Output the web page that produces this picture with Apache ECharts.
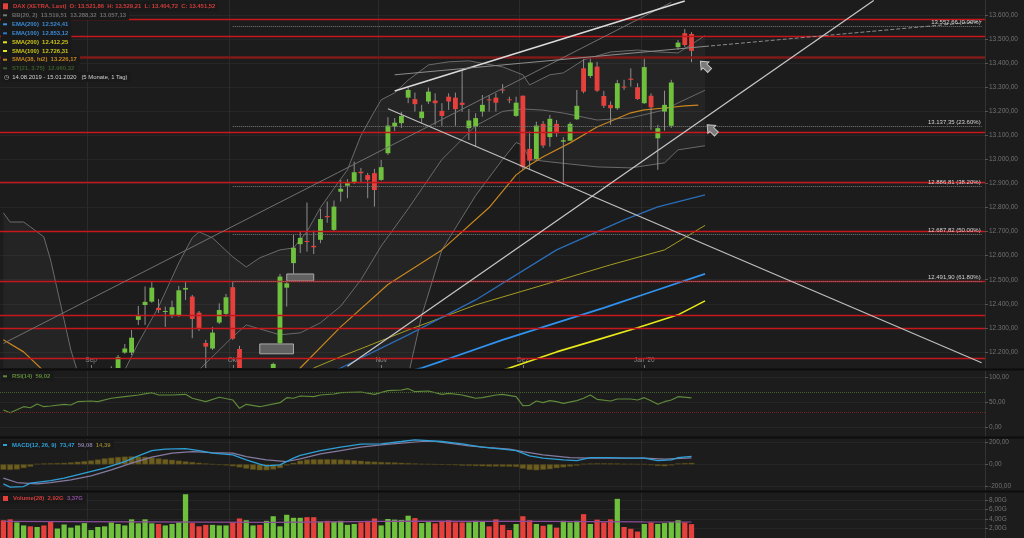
<!DOCTYPE html>
<html><head><meta charset="utf-8">
<script src="https://cdn.jsdelivr.net/npm/echarts@6/dist/echarts.min.js"></script>
<style>html,body{margin:0;padding:0;background:#1c1c1c;overflow:hidden}#c{width:1024px;height:538px}</style>
</head><body><div id="c"></div>
<script>
// ---------- DATA ----------
const dates = ['14.08.','15.08.','16.08.','19.08.','20.08.','21.08.','22.08.','23.08.','26.08.','27.08.','28.08.','29.08.','30.08.',
'02.09.','03.09.','04.09.','05.09.','06.09.','09.09.','10.09.','11.09.','12.09.','13.09.','16.09.','17.09.','18.09.','19.09.','20.09.','23.09.','24.09.','25.09.','26.09.','27.09.','30.09.',
'01.10.','02.10.','04.10.','07.10.','08.10.','09.10.','10.10.','11.10.','14.10.','15.10.','16.10.','17.10.','18.10.','21.10.','22.10.','23.10.','24.10.','25.10.','28.10.','29.10.','30.10.','31.10.',
'01.11.','04.11.','05.11.','06.11.','07.11.','08.11.','11.11.','12.11.','13.11.','14.11.','15.11.','18.11.','19.11.','20.11.','21.11.','22.11.','25.11.','26.11.','27.11.','28.11.','29.11.',
'02.12.','03.12.','04.12.','05.12.','06.12.','09.12.','10.12.','11.12.','12.12.','13.12.','16.12.','17.12.','18.12.','19.12.','20.12.','23.12.','27.12.','30.12.',
'02.01.','03.01.','06.01.','07.01.','08.01.','09.01.','10.01.','13.01.'];
const futureDates = ['14.01.','15.01.','16.01.','17.01.','20.01.','21.01.','22.01.','23.01.','24.01.','27.01.','28.01.','29.01.','30.01.','31.01.',
'03.02.','04.02.','05.02.','06.02.','07.02.','10.02.','11.02.','12.02.','13.02.','14.02.','17.02.','18.02.','19.02.','20.02.','21.02.','24.02.','25.02.','26.02.','27.02.','28.02.',
'02.03.','03.03.','04.03.','05.03.','06.03.','09.03.','10.03.','11.03.','12.03.'];
const monthLabels = {13:'Sep',34:'Okt',56:'Nov',77:'Dez',95:"Jan '20"};

const openP  = [11700,11440,11470,11660,11720,11710,11810,11780,11560,11700,11700,11750,11890,11950,11900,11960,12080,12110,12197,12197,12333,12395,12409,12383,12366,12354,12351,12459,12430,12363,12237,12214,12322,12358,12469,12212,11960,12050,12080,11990,12100,12236,12467,12569,12648,12661,12641,12666,12765,12707,12866,12891,12904,12949,12935,12943,12915,13026,13137,13151,13257,13251,13172,13241,13245,13202,13261,13257,13236,13130,13137,13199,13250,13257,13291,13250,13181,13265,13044,13002,13148,13093,13148,13074,13078,13167,13379,13347,13386,13264,13227,13213,13303,13336,13300,13234,13265,13088,13199,13140,13467,13525,13521.86];
const highP  = [11720,11470,11580,11740,11760,11820,11850,11810,11680,11800,11730,11860,11970,11990,11960,12040,12140,12187,12233,12291,12391,12472,12492,12420,12388,12413,12474,12491,12437,12370,12250,12304,12402,12441,12492,12225,12060,12110,12110,12110,12155,12524,12499,12686,12700,12821,12704,12794,12825,12829,12915,12918,12991,12965,12944,12961,12998,13176,13172,13198,13299,13278,13227,13299,13275,13234,13275,13278,13369,13210,13192,13268,13268,13275,13313,13261,13261,13266,13116,13157,13160,13185,13164,13093,13156,13289,13417,13428,13406,13285,13241,13331,13331,13379,13317,13421,13275,13144,13286,13331,13497,13542,13529.21];
const lowP   = [11480,11266,11440,11640,11650,11700,11730,11580,11550,11690,11640,11740,11870,11920,11800,11950,12050,12090,12192,12187,12312,12312,12404,12362,12304,12341,12345,12416,12257,12287,12120,12208,12316,12347,12250,11900,11930,12000,11960,11970,12020,12233,12388,12524,12611,12617,12607,12652,12737,12699,12825,12839,12898,12902,12839,12804,12911,13019,13119,13131,13234,13199,13153,13231,13144,13140,13206,13140,13198,13081,13053,13178,13199,13199,13275,13234,13177,12957,12957,12998,13048,13053,13094,12894,13077,13164,13275,13339,13281,13214,13144,13206,13289,13303,13248,13231,13123,12957,13120,13131,13456,13468,13404.72];
const closeP = [11492,11412,11563,11715,11680,11802,11777,11612,11658,11730,11701,11838,11939,11953,11911,12025,12126,12178,12214,12259,12352,12408,12467,12374,12370,12386,12456,12466,12337,12297,12222,12280,12374,12427,12255,11925,12012,12097,11970,12094,12150,12513,12485,12633,12674,12657,12635,12752,12760,12804,12878,12901,12947,12943,12915,12873,12968,13141,13153,13181,13289,13230,13199,13282,13234,13181,13241,13209,13227,13162,13172,13227,13246,13236,13287,13246,13236,12968,12995,13141,13058,13169,13109,13080,13148,13223,13282,13403,13286,13223,13213,13317,13299,13331,13251,13384,13217,13130,13227,13320,13486,13476,13451.52];
// volume in billions (G)
const volume = [3.74,3.93,3.29,2.65,2.46,2.32,2.65,3.43,1.99,2.85,2.19,2.65,3.15,1.68,2.32,2.46,3.29,2.96,2.65,3.93,3.10,3.93,3.10,2.96,2.65,2.96,3.29,9.23,3.15,2.46,2.77,2.77,2.65,2.65,3.29,4.12,3.74,2.65,2.77,3.62,4.59,2.46,4.90,4.26,4.26,4.39,4.39,3.48,3.62,3.43,3.62,2.77,2.96,3.29,3.62,4.12,2.65,4.01,3.87,3.81,4.70,4.20,3.15,3.35,3.10,3.62,3.74,3.29,3.29,3.29,3.62,3.43,2.46,3.93,2.77,1.68,2.96,4.59,3.74,2.96,2.57,2.85,2.19,3.62,3.29,3.62,5.03,2.96,3.87,3.29,3.93,8.26,2.32,1.94,1.35,2.96,3.29,2.96,3.15,3.35,3.74,3.29,2.92];
const volumeMA = [[0,3.5],[20,3.4],[40,3.3],[60,3.55],[80,3.5],[95,3.4],[102,3.37]];

const bbUpper = [[0,12778],[1,12740],[3,12740],[4,12720],[6,12678],[7,12582],[8,12458],[9,12333],[10,12208],[11,12117],[14,11990],[16,12040],[18,12125],[20,12237],[23,12387],[26,12570],[28,12674],[29,12699],[31,12674],[34,12595],[36,12553],[38,12591],[41,12624],[43,12632],[45,12700],[47,12800],[49,12880],[51,12957],[53,13100],[55,13200],[56,13248],[58,13277],[60,13330],[63,13393],[66,13406],[69,13410],[74,13385],[77,13352],[78,13310],[81,13352],[83,13360],[86,13414],[90,13447],[94,13455],[97,13447],[100,13443],[104,13515]];
const bbMiddle = [[0,11950],[13,11800],[22,12000],[29,12125],[34,12263],[36,12312],[41,12271],[44,12279],[47,12321],[50,12390],[53,12500],[56,12640],[60,12795],[65,13000],[70,13140],[74,13200],[77,13210],[80,13205],[83,13193],[88,13164],[93,13173],[98,13206],[100,13235],[104,13288]];
const bbLower = [[0,11200],[20,11400],[35,11700],[50,11750],[55,11800],[58,11950],[60,12100],[62,12350],[65,12624],[70,12850],[74,13000],[76,13070],[77,13060],[78,13000],[81,12990],[88,12969],[93,12965],[98,12986],[100,13040],[104,13057]];
const sma38 = [[0,12250],[3,12200],[6,12120],[10,12020],[40,11950],[44,12133],[50,12304],[57,12480],[65,12624],[72,12800],[76,12936],[78,12977],[80,13011],[84,13069],[88,13135],[93,13194],[95,13206],[98,13214],[101,13223],[103,13226]];
const sma100 = [[40,11950],[46,12133],[50,12180],[60,12291],[70,12395],[80,12478],[90,12562],[98,12624],[104,12726]];
const sma200 = [[60,12000],[75,12133],[82,12200],[88,12250],[94,12300],[100,12354],[104,12412]];
const ema100 = [[40,12000],[50,12133],[60,12271],[70,12416],[82,12624],[92,12749],[97,12803],[104,12853]];
const ema200 = [[50,12050],[62,12133],[65,12162],[74,12250],[81,12312],[89,12383],[96,12449],[104,12524]];

const rsi = [[0,34.9],[1,29.5],[3,41.4],[4,39.4],[5,46.8],[6,41.4],[7,42.8],[9,46.2],[10,44.8],[11,51.4],[13,52.8],[14,51.4],[16,58.2],[18,61.4],[20,64.7],[22,69.3],[23,64.7],[25,64.7],[27,66.1],[28,58.2],[30,51.4],[32,60.2],[34,54.8],[35,38.2],[36,46.2],[38,41.4],[41,49.4],[42,59.4],[43,58.2],[44,62.7],[46,61.4],[47,64.7],[49,66.7],[50,69.3],[53,70.7],[55,66.1],[57,73.3],[59,74.7],[60,77.3],[61,71.3],[63,72.7],[65,66.1],[66,68.1],[68,64.7],[69,61.4],[70,58.2],[71,59.4],[73,64.7],[74,66.1],[76,61.4],[77,43.4],[78,44.2],[79,52.8],[80,49.4],[81,53.4],[82,51.4],[83,48.2],[85,53.4],[86,58.2],[87,64.7],[88,56.2],[90,52.8],[91,56.8],[93,56.8],[94,54.8],[95,59.4],[96,53.4],[97,46.2],[98,51.4],[99,54.8],[100,61.4],[102,59.02]];
const macdLine = [[0,-180],[1,-211],[3,-205],[4,-174],[7,-150],[9,-127],[12,-81],[15,-35],[18,26],[20,79],[22,127],[24,140],[27,146],[29,127],[31,103],[34,88],[36,42],[38,2],[39,-14],[41,-5],[43,57],[44,83],[47,127],[50,159],[53,187],[56,189],[59,211],[61,226],[63,220],[65,211],[68,189],[71,159],[74,140],[76,127],[78,79],[80,57],[83,42],[85,35],[87,63],[90,63],[92,57],[95,57],[97,35],[99,42],[100,63],[102,73.47]];
const macdSignal = [[0,-127],[2,-168],[5,-180],[7,-168],[10,-143],[13,-106],[16,-51],[19,11],[22,67],[25,103],[28,118],[31,109],[34,103],[36,72],[39,42],[42,26],[44,51],[47,97],[50,127],[53,159],[56,180],[59,196],[62,211],[64,211],[66,196],[69,171],[72,155],[75,140],[77,118],[80,88],[84,63],[87,57],[90,57],[95,57],[98,48],[102,59.08]];
const macdHist = [-50,-52,-48,-35,-22,5,8,10,12,14,18,24,30,36,45,55,62,68,72,74,72,70,62,55,48,42,35,28,22,15,8,2,-5,-10,-18,-28,-40,-50,-55,-55,-48,-35,-10,15,35,45,47,48,48,47,45,42,38,33,28,25,22,20,18,15,12,8,5,3,0,-3,-5,-8,-12,-14,-16,-18,-20,-20,-21,-22,-24,-40,-52,-55,-50,-45,-35,-28,-20,-12,5,8,10,10,9,8,6,5,3,2,-8,-15,-18,-10,8,12,14.39];

const priceTicks = [12200,12300,12400,12500,12600,12700,12800,12900,13000,13100,13200,13300,13400,13500,13600];
const rsiTicks = [0,50,100];
const macdTicks = [-200,0,200];
const volTicks = [2,4,6,8];

const redLevels = [13583,13514,12905,12700,12493,12352,12298,12174,13113];
const darkRedLevel = 13425;
const fibLevels = [
  {v:13552.66, t:'13.552,66 (0.00%)'},
  {v:13137.35, t:'13.137,35 (23.60%)'},
  {v:12886.81, t:'12.886,81 (38.20%)'},
  {v:12687.82, t:'12.687,82 (50.00%)'},
  {v:12491.90, t:'12.491,90 (61.80%)'}
];
const fibStart = 34, lineEnd = 145;
const trendLines = [
  {a:[0,12235], b:[99,13653], c:'#707070', w:1, t:'solid'},
  {a:[58,13285], b:[101,13659], c:'#dadada', w:1.6, t:'solid'},
  {a:[58,13352], b:[104,13470], c:'#8c8c8c', w:1, t:'solid'},
  {a:[104,13470], b:[145,13574], c:'#8c8c8c', w:1, t:'dashed'},
  {a:[57,13211], b:[145,12155], c:'#bfbfbf', w:1.2, t:'solid'},
  {a:[51,12140], b:[129,13661], c:'#c8c8c8', w:1.2, t:'solid'}
];
const gapBoxes = [[[38,12233],[43,12192]], [[42,12524],[46,12495]]];
const arrows = [[104,13389],[105,13125]];
const lastPrice = 13451.52;

// ---------- HELPERS ----------
const cats = dates.concat(futureDates);
const GREEN = '#6fc03d', RED = '#e5403c';
function de(v, d){ d = d===undefined?2:d; const s = Math.abs(v).toFixed(d); let p = s.split('.'); let a = p[0].replace(/\B(?=(\d{3})+(?!\d))/g,'.'); return (v<0?'-':'') + a + (p[1]?','+p[1]:''); }
const isMonth = (i)=> (i in monthLabels);
const FONT = 'Liberation Sans, Arial, sans-serif';

function xAx(gi, labels){
  return {type:'category', gridIndex:gi, data:cats, boundaryGap:true,
    axisLine:{show:false},
    axisTick:{show:labels, inside:true, length:3, alignWithLabel:true, interval:isMonth, lineStyle:{color:'#777'}},
    axisLabel:{show:labels, inside:true, interval:isMonth, formatter:(v,i)=>monthLabels[i]||'', color:'#8a8a8a', fontSize:6.5, margin:4, fontFamily:FONT},
    splitLine:{show:true, interval:isMonth, lineStyle:{color:'#2b2b2b', width:1}}};
}
function yAx(gi, min, max, ticks, fmt){
  return {type:'value', gridIndex:gi, position:'right', min:min, max:max,
    axisLine:{show:true, lineStyle:{color:'#333'}},
    axisTick:{show:true, length:3, customValues:ticks, lineStyle:{color:'#555'}},
    axisLabel:{customValues:ticks, formatter:fmt, color:'#727272', fontSize:6.5, margin:4, fontFamily:FONT},
    splitLine:{show:true, lineStyle:{color:'#262626'}}};
}
function lineS(name, data, color, width, xi, extra){
  return Object.assign({name:name, type:'line', xAxisIndex:xi, yAxisIndex:xi, data:data, showSymbol:false, symbol:'none',
    lineStyle:{color:color, width:width}, z:2, silent:true}, extra||{});
}
function rowTitle(cy, iconColor, parts, iconW, iconH){
  let txt = '{ic|}{sp|}';
  const rich = {ic:{width:iconW||4, height:iconH||2, backgroundColor:iconColor}, sp:{width:5}};
  parts.forEach((p,k)=>{ txt += '{p'+k+'|'+p[0]+'}'; rich['p'+k] = {color:p[1], fontSize:5.9, fontFamily:FONT, lineHeight:8}; });
  return {text:txt, left:1, top:cy-5, padding:[1,3,1,2], backgroundColor:'#191919',
    textStyle:{rich:rich, fontSize:5.9, lineHeight:8}};
}

const candleData = openP.map((o,i)=>[i, o, closeP[i], lowP[i], highP[i]]);

const option = {
  backgroundColor:'#1c1c1c',
  animation:false,
  textStyle:{fontFamily:FONT},
  title:[
    rowTitle(6.3, RED, [['DAX (XETRA, Last)  O: 13.521,86  H: 13.529,21  L: 13.404,72  C: 13.451,52', '#d23c3c']], 5, 6),
    rowTitle(15.3, '#777', [['BB(20, 2)  13.519,51  13.288,32  13.057,13', '#6c6c6c']]),
    rowTitle(24.3, '#3a8ee0', [['EMA(200)  12.524,41', '#3a8ad6']]),
    rowTitle(33.3, '#2f78c8', [['EMA(100)  12.853,12', '#3a8ad6']]),
    rowTitle(42.3, '#e6e619', [['SMA(200)  12.412,25', '#c9c21a']]),
    rowTitle(51.0, '#e6e619', [['SMA(100)  12.726,31', '#c9c21a']]),
    rowTitle(59.7, '#c8861e', [['SMA(38, hi2)  13.226,17', '#c8861e']]),
    rowTitle(68.3, '#3b5a2c', [['ST(21, 3.75)  12.960,32', '#3b5a2c']]),
    {text:'\u25F7  14.08.2019 - 15.01.2020   (5 Monate, 1 Tag)', left:2, top:72, padding:[1,3,1,2], backgroundColor:'#191919', textStyle:{color:'#d0d0d0', fontSize:5.9, fontWeight:'normal', fontFamily:FONT, lineHeight:8}},
    rowTitle(376.3, '#5f8a3a', [['RSI(14)  59,02', '#5f8a3a']]),
    rowTitle(445, '#2ea0d8', [['MACD(12, 26, 9)  73,47  ', '#2ea0d8'],['59,08  ', '#857aa0'],['14,39', '#8a7a2a']]),
    rowTitle(498.5, RED, [['Volume(28)  2,92G  ', '#d23c3c'],['3,37G', '#8c4c9c']], 5, 5)
  ],
  grid:[
    {left:0, top:0, width:985, height:368},
    {left:0, top:371, width:985, height:65},
    {left:0, top:439, width:985, height:51},
    {left:0, top:493, width:985, height:49}
  ],
  xAxis:[xAx(0,true), xAx(1,false), xAx(2,false), xAx(3,false)],
  yAxis:[
    yAx(0, 12133, 13663, priceTicks, v=>de(v)),
    yAx(1, -16.9, 112.5, rsiTicks, v=>de(v)),
    yAx(2, -237, 234.2, macdTicks, v=>de(v)),
    yAx(3, 0, 9.49, volTicks, v=>de(v)+'G')
  ],
  graphic:[
    {type:'rect', shape:{x:0,y:368.5,width:1024,height:2}, style:{fill:'#0d0d0d'}, z:100, silent:true},
    {type:'rect', shape:{x:0,y:436.5,width:1024,height:2}, style:{fill:'#0d0d0d'}, z:100, silent:true},
    {type:'rect', shape:{x:0,y:490.5,width:1024,height:2}, style:{fill:'#0d0d0d'}, z:100, silent:true}
  ],
  series:[
    {name:'BB fill', type:'custom', xAxisIndex:0, yAxisIndex:0, data:[[0,13000]], clip:true, z:1, silent:true,
      encode:{x:0, y:1},
      renderItem:function(params, api){
        const pts = bbUpper.map(p=>api.coord(p)).concat(bbLower.slice().reverse().map(p=>api.coord(p)));
        return {type:'polygon', shape:{points:pts}, style:{fill:'rgba(255,255,255,0.035)'}};
      }},
    lineS('BB upper', bbUpper, '#6a6a6a', 1, 0),
    lineS('BB middle', bbMiddle, '#6a6a6a', 1, 0),
    lineS('BB lower', bbLower, '#6a6a6a', 1, 0),
    lineS('SMA100', sma100, '#a59d22', 1, 0),
    lineS('EMA100', ema100, '#2a6db8', 1.3, 0),
    lineS('EMA200', ema200, '#2f92ee', 1.8, 0),
    lineS('SMA200', sma200, '#e8e81c', 1.6, 0),
    lineS('SMA38', sma38, '#c8861e', 1.2, 0),
    {name:'levels', type:'line', xAxisIndex:0, yAxisIndex:0, data:closeP.map((c,i)=>[i,c]), showSymbol:false, symbol:'none', lineStyle:{opacity:0}, z:3, silent:true,
      markLine:{silent:true, symbol:['none','none'], animation:false,
        data: [].concat(
          redLevels.map(v=>({yAxis:v, lineStyle:{color:'#c8161d', width:1.3, type:'solid'}, label:{show:false}})),
          [{yAxis:darkRedLevel, lineStyle:{color:'#7e1a1a', width:2.6, type:'solid'}, label:{show:false}}],
          fibLevels.map(f=>[{coord:[fibStart,f.v], lineStyle:{color:'#7a7a7a', width:1, type:'dotted'},
              label:{show:true, position:'insideEndTop', formatter:f.t, color:'#d4d4d4', fontSize:6, distance:1, fontFamily:FONT}},
            {coord:[lineEnd,f.v]}]),
          trendLines.map(l=>[{coord:l.a, lineStyle:{color:l.c, width:l.w, type:l.t}, label:{show:false}},{coord:l.b}]),
          [{yAxis:lastPrice, lineStyle:{opacity:0}, label:{show:true, position:'end', formatter:'13.451,52', color:'#ffe9e9', backgroundColor:'#e23a3a', padding:[2,3,2,4], fontSize:6.5, distance:2, fontFamily:FONT}}]
        )},
      markArea:{silent:true, itemStyle:{color:'#5c5c5c', borderColor:'#a8a8a8', borderWidth:1},
        data: gapBoxes.map(b=>[{coord:b[0]},{coord:b[1]}])}
    },
    {name:'DAX', type:'custom', xAxisIndex:0, yAxisIndex:0, data:candleData, clip:true, z:4, silent:true,
      encode:{x:0, y:[1,2,3,4]},
      renderItem:function(params, api){
        const x = api.value(0), o = api.value(1), c = api.value(2), l = api.value(3), h = api.value(4);
        const pO = api.coord([x,o]), pC = api.coord([x,c]), pL = api.coord([x,l]), pH = api.coord([x,h]);
        const w = api.size([1,0])[0]*0.72;
        const top = Math.min(pO[1],pC[1]), hgt = Math.max(1, Math.abs(pO[1]-pC[1]));
        return {type:'group', children:[
          {type:'line', shape:{x1:pH[0], y1:pH[1], x2:pL[0], y2:pL[1]}, style:{stroke:'#8e8e8e', lineWidth:1}},
          {type:'rect', shape:{x:pO[0]-w/2, y:top, width:w, height:hgt}, style:{fill: c>=o?GREEN:RED}}
        ]};
      },
      markPoint:{silent:true, symbol:'path://M0,0 L10,10 L5,10 L5,20 L-5,20 L-5,10 L-10,10 Z', symbolSize:[11,13], symbolRotate:45,
        itemStyle:{color:'#7a7a7a', borderColor:'#c4c4c4', borderWidth:1}, label:{show:false},
        data: arrows.map(a=>({coord:a}))}
    },
    lineS('RSI', rsi, '#5f8a3a', 1.2, 1, {markLine:{silent:true, symbol:['none','none'], label:{show:false},
      data:[{yAxis:70, lineStyle:{color:'#45602c', type:'dotted', width:1}},{yAxis:30, lineStyle:{color:'#6a2424', type:'dotted', width:1}}]}}),
    {name:'hist', type:'bar', xAxisIndex:2, yAxisIndex:2, data:macdHist, barWidth:'88%', itemStyle:{color:'#6c5d20', borderColor:'#4f441a', borderWidth:0.5}, z:2, silent:true},
    lineS('Signal', macdSignal, '#857aa0', 1.2, 2),
    lineS('MACD', macdLine, '#2ea0d8', 1.3, 2),
    {name:'Volume', type:'bar', xAxisIndex:3, yAxisIndex:3, barWidth:'78%', z:2, silent:true,
      data: volume.map((v,i)=>({value:v, itemStyle:{color: closeP[i]>=openP[i]?GREEN:RED}}))},
    lineS('VolMA', volumeMA, '#8c4c9c', 1.2, 3)
  ]
};
const chart = echarts.init(document.getElementById('c'), null, {renderer:'canvas'});
chart.setOption(option);
</script>
</body></html>
